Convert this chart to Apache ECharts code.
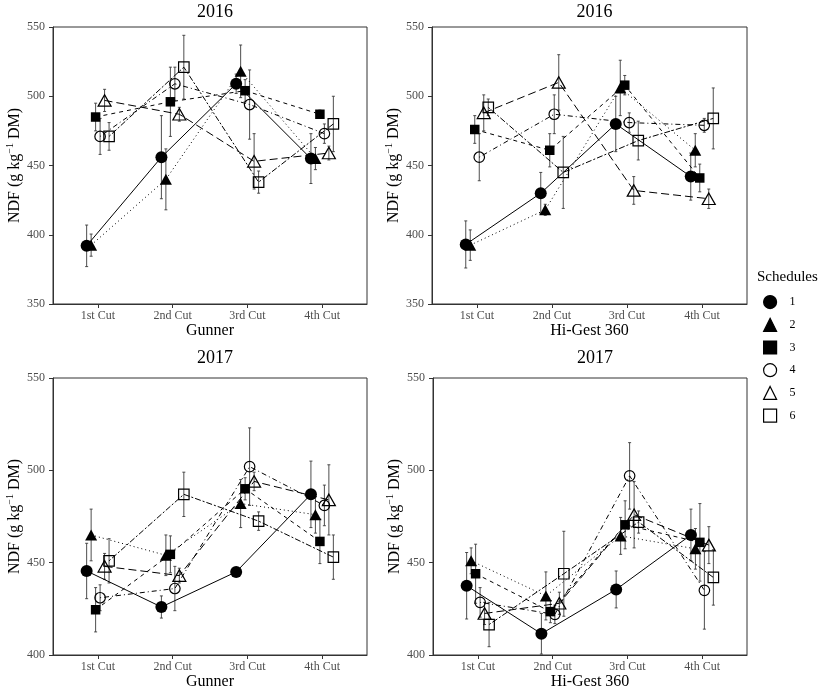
<!DOCTYPE html>
<html><head><meta charset="utf-8">
<script src="https://cdn.jsdelivr.net/npm/echarts@6/dist/echarts.min.js"></script>
<style>html,body{margin:0;padding:0;background:#fff}#c{width:827px;height:692px}</style>
</head><body><div id="c"></div>
<script>
// ---------- data ----------
const cuts = ['1st Cut', '2nd Cut', '3rd Cut', '4th Cut'];
const schedules = ['1', '2', '3', '4', '5', '6'];
const years = ['2016', '2016', '2017', '2017'];
const varieties = ['Gunner', 'Hi-Gest 360', 'Gunner', 'Hi-Gest 360'];
const yTicks2016 = [350, 400, 450, 500, 550];
const yTicks2017 = [400, 450, 500, 550];

// means: one row per schedule, columns = cuts
const gunner2016Mean = [
  [392, 456, 509, 455],
  [392.5, 440, 518, 455],
  [485, 496, 504, 487],
  [471, 509, 494, 473],
  [497, 487, 453, 459],
  [471, 521, 438, 480]
];
const gunner2016Err = [
  [15, 30, 7, 18],
  [8, 22, 19, 8],
  [10, 25, 8, 3],
  [13, 12, 25, 7],
  [8, 5, 20, 5],
  [10, 23, 8, 20]
];
const higest2016Mean = [
  [393, 430, 480, 442],
  [392.5, 418, 506, 461],
  [476, 461, 508, 441],
  [456, 487, 481, 479],
  [488, 510, 432, 426],
  [492, 445, 468, 484]
];
const higest2016Err = [
  [17, 15, 20, 17],
  [11, 4, 20, 12],
  [10, 12, 7, 10],
  [17, 14, 7, 5],
  [13, 20, 10, 7],
  [6, 26, 14, 22]
];
const gunner2017Mean = [
  [445.5, 426, 445, 487],
  [465, 454, 482, 476],
  [424.5, 454.5, 490, 461.5],
  [431, 436, 502, 481],
  [448, 443, 494, 484],
  [451, 487, 472.5, 453]
];
const gunner2017Err = [
  [15, 6, 0, 18],
  [14, 11, 13, 10],
  [12, 10, 6, 12],
  [7, 12, 21, 11],
  [7, 4, 5, 19],
  [12, 12, 5, 12]
];
const higest2017Mean = [
  [437.5, 411.5, 435.5, 465],
  [451, 432, 464.5, 457.5],
  [444, 423.5, 470.5, 461],
  [428.5, 422, 497, 435],
  [422.5, 428, 476, 459.5],
  [416.5, 444, 472, 442]
];
const higest2017Err = [
  [18, 11, 10, 14],
  [7, 13, 10, 11],
  [16, 6, 13, 21],
  [8, 5, 18, 21],
  [6, 6, 18, 10],
  [12, 23, 6, 15]
];

// ---------- styling / layout ----------
const FONT = '"Liberation Serif", "Times New Roman", serif';
const means = [gunner2016Mean, higest2016Mean, gunner2017Mean, higest2017Mean];
const errs = [gunner2016Err, higest2016Err, gunner2017Err, higest2017Err];
const yTickSets = [yTicks2016, yTicks2016, yTicks2017, yTicks2017];
const grids = [
  {left: 53, top: 27, width: 314, height: 277},
  {left: 432, top: 27, width: 315, height: 277},
  {left: 53, top: 378, width: 314, height: 277},
  {left: 433, top: 378, width: 314, height: 277}
];
const titleTops = [-2, -2, 344, 344];
const shapes = ['circle', 'triangle', 'rect', 'circle', 'triangle', 'rect'];
const filled = [true, true, true, false, false, false];
const sizes = [12, [12, 11], 9.5, 10.5, [13, 11.5], 10.5];
const lineTypes = ['solid', [1, 3], [4, 4], [1, 3, 5, 3], [8, 4], [2, 2, 6, 2]];
const dodgeWidth = 0.3;
const dodge = s => (s - 2.5) * dodgeWidth / 5;

function errRender(params, api) {
  const x = api.value(0), lo = api.value(1), hi = api.value(2);
  const p1 = api.coord([x, hi]), p2 = api.coord([x, lo]);
  const w = 1.5;
  const style = {stroke: '#3a3a3a', lineWidth: 0.9};
  return {type: 'group', children: [
    {type: 'line', shape: {x1: p1[0], y1: p1[1], x2: p2[0], y2: p2[1]}, style},
    {type: 'line', shape: {x1: p1[0] - w, y1: p1[1], x2: p1[0] + w, y2: p1[1]}, style},
    {type: 'line', shape: {x1: p2[0] - w, y1: p2[1], x2: p2[0] + w, y2: p2[1]}, style}
  ]};
}

const xAxes = [], yAxes = [], series = [], titles = [];
grids.forEach((g, p) => {
  titles.push({text: years[p], left: g.left + g.width / 2, top: titleTops[p], textAlign: 'center',
    textStyle: {fontFamily: FONT, fontSize: 18, fontWeight: 'normal', color: '#000'}});
  xAxes.push({type: 'value', gridIndex: p, min: 0.4, max: 4.6,
    name: varieties[p], nameLocation: 'middle', nameGap: 19,
    nameTextStyle: {fontFamily: FONT, fontSize: 16, color: '#000'},
    axisLine: {show: true, onZero: false, lineStyle: {color: '#333', width: 1}},
    axisTick: {show: true, customValues: [1, 2, 3, 4], length: 4, lineStyle: {color: '#333'}},
    axisLabel: {customValues: [1, 2, 3, 4], formatter: v => cuts[Math.round(v) - 1],
      fontFamily: FONT, fontSize: 12, color: '#4d4d4d', margin: 6},
    splitLine: {show: false}});
  const t = yTickSets[p];
  yAxes.push({type: 'value', gridIndex: p, min: t[0], max: t[t.length - 1], interval: 50,
    name: '{a|NDF (g kg}{s|\u22121}{a| DM)}', nameLocation: 'middle', nameGap: 28,
    nameTextStyle: {fontFamily: FONT, fontSize: 16, color: '#000',
      rich: {a: {fontFamily: FONT, fontSize: 16, color: '#000', lineHeight: 20},
             s: {fontFamily: FONT, fontSize: 10, color: '#000', lineHeight: 10, verticalAlign: 'top'}}},
    axisLine: {show: true, onZero: false, lineStyle: {color: '#333', width: 1}},
    axisTick: {show: true, length: 4, lineStyle: {color: '#333'}},
    axisLabel: {fontFamily: FONT, fontSize: 12, color: '#4d4d4d', margin: 8},
    splitLine: {show: false}});
  schedules.forEach((s, k) => {
    series.push({type: 'custom', name: 'err' + s, xAxisIndex: p, yAxisIndex: p,
      renderItem: errRender, encode: {x: 0, y: [1, 2]}, silent: true, z: 1,
      data: cuts.map((c, i) => [i + 1 + dodge(k), means[p][k][i] - errs[p][k][i], means[p][k][i] + errs[p][k][i]])});
  });
  schedules.forEach((s, k) => {
    series.push({type: 'line', name: s, xAxisIndex: p, yAxisIndex: p, z: 3,
      symbol: shapes[k], symbolSize: sizes[k], showSymbol: true,
      lineStyle: {color: '#000', width: 1, type: lineTypes[k]},
      itemStyle: {color: filled[k] ? '#000' : 'rgba(0,0,0,0)', borderColor: '#000', borderWidth: filled[k] ? 0 : 1.2},
      emphasis: {disabled: true},
      data: cuts.map((c, i) => [i + 1 + dodge(k), means[p][k][i]])});
  });
});

titles.push({text: 'Schedules', left: 752, top: 265,
  textStyle: {fontFamily: FONT, fontSize: 15, fontWeight: 'normal', color: '#000'}});

const chart = echarts.init(document.getElementById('c'), null, {renderer: 'canvas'});
chart.setOption({
  animation: false,
  backgroundColor: '#fff',
  title: titles,
  grid: grids.map(g => Object.assign({show: true, borderColor: '#333', borderWidth: 1, backgroundColor: 'transparent'}, g)),
  xAxis: xAxes,
  yAxis: yAxes,
  legend: {orient: 'vertical', left: 763, top: 295, padding: 0, itemWidth: 13, itemHeight: 13, itemGap: 8.5,
    selectedMode: false,
    data: schedules.map((s, k) => ({name: s, icon: shapes[k]})),
    itemStyle: {borderWidth: 1.2, borderColor: '#000'},
    textStyle: {fontFamily: FONT, fontSize: 12, color: '#000', padding: [0, 0, 0, 8]}},
  series: series
});
</script>
</body></html>
